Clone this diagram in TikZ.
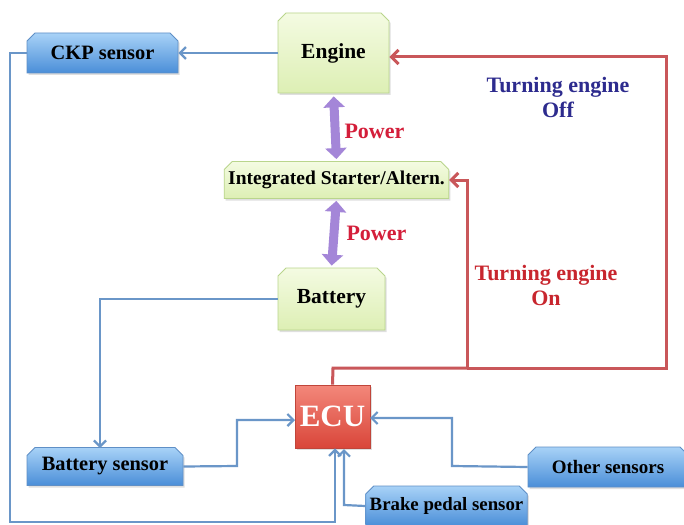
\documentclass[tikz,border=0pt]{standalone}
\usepackage{fontspec}
\setmainfont{Liberation Serif}
\usetikzlibrary{shapes.misc,arrows.meta,shadows}
\definecolor{bluetop}{HTML}{A8D2F7}
\definecolor{bluebot}{HTML}{4A8ED8}
\definecolor{blueline}{HTML}{5F8FC6}
\definecolor{conblue}{HTML}{6A96C8}
\definecolor{greentop}{HTML}{F4FBE2}
\definecolor{greenbot}{HTML}{DDEFB4}
\definecolor{greenline}{HTML}{B9D58C}
\definecolor{ecutop}{HTML}{F3877A}
\definecolor{ecubot}{HTML}{D9463A}
\definecolor{eculine}{HTML}{C0453A}
\definecolor{conred}{HTML}{C9575A}
\definecolor{powpurple}{HTML}{A486D8}
\definecolor{powred}{HTML}{D41E3A}
\definecolor{offblue}{HTML}{2D2B8E}
\definecolor{onred}{HTML}{C8262E}
\tikzset{
  snipbox/.style={chamfered rectangle, chamfered rectangle corners={north west,north east},
    chamfered rectangle xsep=4pt, chamfered rectangle ysep=4pt, inner sep=0pt,
    line width=0.8pt, font=\bfseries,
    drop shadow={opacity=0.25,shadow xshift=1.5pt,shadow yshift=-2pt}},
  bluebox/.style={snipbox, draw=blueline, top color=bluetop, bottom color=bluebot},
  greenbox/.style={snipbox, draw=greenline, top color=greentop, bottom color=greenbot},
  ecubox/.style={rectangle, draw=eculine, line width=0.8pt, top color=ecutop, bottom color=ecubot,
    text=white, font=\fontsize{31}{34}\selectfont\bfseries,
    drop shadow={opacity=0.25,shadow xshift=1.5pt,shadow yshift=-2pt}},
  bluecon/.style={draw=conblue, line width=2.2pt, -{Straight Barb[length=6pt,width=12pt]}},
  redcon/.style={draw=conred, line width=3pt, -{Straight Barb[length=7pt,width=14pt]}},
  redline/.style={draw=conred, line width=3pt},
  powarrow/.style={draw=powpurple, line width=9pt,
    {Triangle[width=21pt,length=11pt]}-{Triangle[width=21pt,length=11pt]}},
  lbl/.style={font=\fontsize{22}{25}\selectfont\bfseries, align=center}
}
\newcommand{\fsz}[1]{\fontsize{#1}{#1}\selectfont}
\begin{document}
\begin{tikzpicture}[x=1pt,y=-1pt]
\useasboundingbox[fill=white] (0,0) rectangle (684,524);
% nodes
\node[bluebox, minimum width=151pt, minimum height=40pt] (ckp) at (102.5,53) {\fsz{20.4}CKP sensor};
\node[greenbox, minimum width=111pt, minimum height=80pt] (engine) at (333.5,53) {\fsz{21.5}Engine};
\node[greenbox, minimum width=223pt, minimum height=37pt] (isa) at (336.5,180) {\fsz{19.5}Integrated Starter/Altern.};
\node[greenbox, minimum width=107pt, minimum height=62pt] (battery) at (331.5,299) {\fsz{21.5}Battery};
\node[ecubox, minimum width=75pt, minimum height=63pt] (ecu) at (332.5,416.5) {ECU};
\node[bluebox, minimum width=156pt, minimum height=38pt] (bsens) at (105,466.5) {\fsz{20.4}Battery sensor};
\node[bluebox, minimum width=160pt, minimum height=40pt] (other) at (608,467) {\fsz{19}Other sensors};
\node[bluebox, minimum width=161pt, minimum height=40pt] (brake) at (446.5,506) {\fsz{18.8}Brake pedal sensor};
% labels
\node[lbl, text=powred, anchor=west] (p1) at (341,131) {Power};
\node[lbl, text=powred, anchor=west] (p2) at (343,233) {Power};
\node[lbl, text=offblue] (off) at (558,97) {Turning engine\\Off};
\node[lbl, text=onred] (on) at (546,285) {Turning engine\\On};
% coordinates
\coordinate (cl1) at (10,53);
\coordinate (cl2) at (10,522);
\coordinate (cl3) at (335,522);
\coordinate (r0) at (333,368);
\coordinate (r1) at (666,368);
\coordinate (r2) at (666,57);
\coordinate (rj) at (467,368);
\coordinate (rj2) at (467,180);
% power arrows
\draw[powarrow, shorten <=3pt, shorten >=2pt] (engine.south) -- (isa.north);
\draw[powarrow, shorten <=2pt, shorten >=2pt] (isa.south) -- (battery.north);
% blue connectors
\draw[bluecon] (engine.west) -- (ckp.east);
\draw[bluecon] (ckp.west) -- (cl1) -- (cl2) -- (cl3) -- (cl3 |- ecu.south);
\draw[bluecon] (brake.west) -- (344,505) -- (344,449);
\draw[bluecon] (battery.west) -- (100,299) -- (100,448);
\draw[bluecon] (bsens.east) -- (237,466) -- (237,420) -- (295,420);
\draw[bluecon] (other.west) -- (452,466) -- (452,418) -- (370,418);
% red connectors
\draw[redline] (ecu.north) -- (r0) -- (rj);
\draw[redcon] (rj) -- (r1) -- (r2) -- ([yshift=-4pt]engine.east);
\draw[redcon] (rj) -- (rj2) -- (isa.east);
\end{tikzpicture}
\end{document}
